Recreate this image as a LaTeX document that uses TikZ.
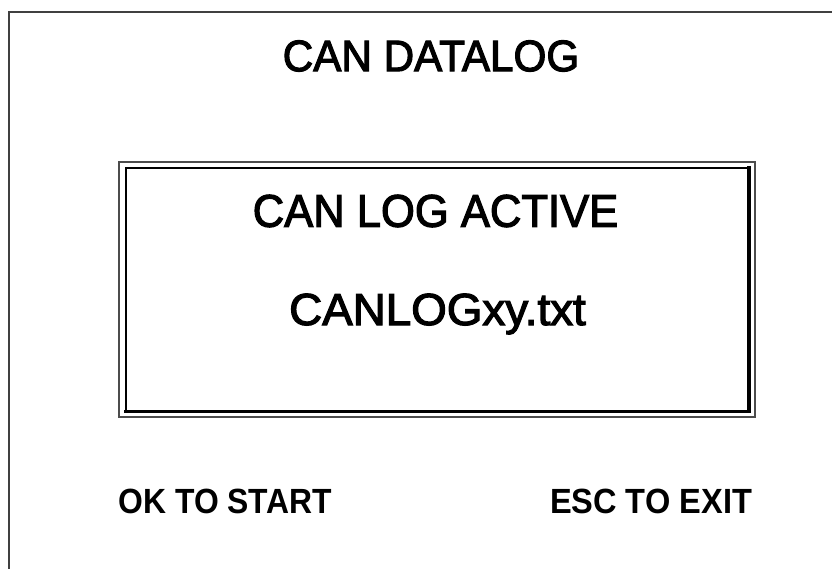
\documentclass[tikz,border=0pt]{standalone}
\usepackage{fontspec}
\setmainfont{Liberation Sans}
\newfontfamily\labfont[FakeBold=2.6]{Liberation Sans}
\newfontfamily\btnfont{Liberation Sans Bold}
\tikzset{
  framegray/.style={draw=black!75, line width=2.4pt},
  boxouter/.style={draw=black!70, line width=2pt},
  boxinner/.style={draw=black, line width=2pt},
  boxheavy/.style={draw=black, line width=3.4pt},
  bigtext/.style={inner sep=0pt, anchor=center, font=\labfont\fontsize{44}{48}\selectfont},
  btntext/.style={inner sep=0pt, anchor=center, font=\btnfont\fontsize{35}{40}\selectfont},
}
\begin{document}
\begin{tikzpicture}[x=1pt,y=-1pt]
\useasboundingbox (0,0) rectangle (832,568);
\fill[white] (0,0) rectangle (832,568);
% outer screen frame
\draw[framegray] (9,575) -- (9,12) -- (840,12);
% double box
\draw[boxouter] (118.5,161.5) rectangle (755,417);
\draw[boxinner] (125.5,167.5) rectangle (749,411.5);
\draw[boxheavy, line cap=rect] (125.5,411.5) -- (749,411.5) -- (749,167.5);
% texts
\node[bigtext] (title) at (431,56) {\scalebox{0.96}[1]{CAN DATALOG}};
\node[bigtext] (active) at (435.5,211) {\scalebox{0.99}[1.04]{CAN LOG ACTIVE}};
\node[bigtext, anchor=base] (file) at (437.5,325) {\scalebox{1.04}[1.02]{CANLOGxy.txt}};
\node[btntext, anchor=base] (ok) at (225,513) {\scalebox{0.91}[1]{OK TO START}};
\node[btntext, anchor=base] (esc) at (651,513) {\scalebox{0.93}[1]{ESC TO EXIT}};
\end{tikzpicture}
\end{document}
